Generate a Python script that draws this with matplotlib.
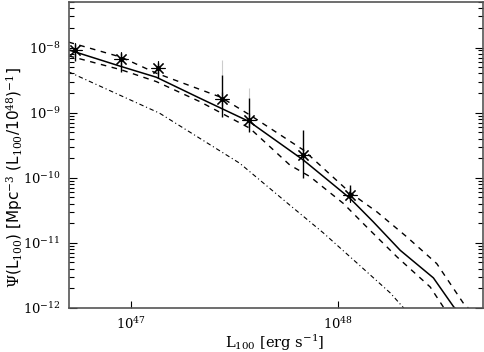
import matplotlib
matplotlib.use("Agg")
import matplotlib.pyplot as plt
from matplotlib.ticker import LogLocator, NullLocator, NullFormatter

plt.rcParams['font.family'] = ['DejaVu Serif']
plt.rcParams['mathtext.fontset'] = 'dejavuserif'

# Model curve (solid)
model_L = [4.98e46, 8.95e46, 1.32e47, 2.14e47, 3.71e47, 6.78e47, 1.14e48, 1.476e48, 1.99e48, 2.88e48, 3.61e48, 3.66e48]
model_psi = [9.2e-9, 5.1e-9, 3.5e-9, 1.67e-9, 7.3e-10, 1.87e-10, 4.82e-11, 2.10e-11, 7.7e-12, 2.9e-12, 1.04e-12, 1.0e-12]

# Upper uncertainty (dashed)
upper_L = [4.98e46, 8.95e46, 1.32e47, 2.70e47, 3.74e47, 6.78e47, 1.14e48, 1.535e48, 2.14e48, 2.99e48, 4.03e48, 4.25e48]
upper_psi = [1.21e-8, 7.1e-9, 4.04e-9, 1.73e-9, 9.2e-10, 2.67e-10, 5.9e-11, 3.0e-11, 1.24e-11, 4.8e-12, 1.17e-12, 1.0e-12]

# Lower uncertainty (dashed)
lower_L = [4.98e46, 8.95e46, 1.32e47, 2.14e47, 3.74e47, 5.83e47, 7.3e47, 1.057e48, 1.37e48, 1.92e48, 2.78e48, 3.22e48, 3.26e48]
lower_psi = [7.45e-9, 4.54e-9, 3.0e-9, 1.48e-9, 5.75e-10, 1.57e-10, 1.04e-10, 4.04e-11, 1.76e-11, 6.1e-12, 2.1e-12, 1.03e-12, 1.0e-12]

# Dash-dot curve
dd_L = [4.98e46, 8.95e46, 1.37e47, 2.14e47, 3.34e47, 5.83e47, 8.45e47, 1.227e48, 1.78e48, 2.07e48]
dd_psi = [4.23e-9, 1.81e-9, 9.8e-10, 4.04e-10, 1.67e-10, 3.8e-11, 1.43e-11, 4.95e-12, 1.71e-12, 1.0e-12]

# Data points with error bars
pts_L = [5.36e46, 8.95e46, 1.345e47, 2.73e47, 3.71e47, 6.77e47, 1.14e48]
pts_psi = [9.2e-9, 6.64e-9, 4.92e-9, 1.61e-9, 7.73e-10, 2.23e-10, 5.42e-11]
pts_hi = [1.14e-8, 8.3e-9, 5.8e-9, 3.8e-9, 1.68e-9, 5.42e-10, 7.7e-11]
pts_lo = [6.1e-9, 4.27e-9, 3.42e-9, 8.67e-10, 5.1e-10, 9.8e-11, 4.5e-11]
# faint upper extensions of some error bars
faint_L = [2.73e47, 3.71e47]
faint_lo = [3.8e-9, 1.68e-9]
faint_hi = [6.5e-9, 2.4e-9]

fig = plt.figure(figsize=(4.85, 3.52), dpi=100)
ax = fig.add_axes([69/485, 1-308/352, (483-69)/485, (308-2)/352])
ax.set_xscale('log')
ax.set_yscale('log')
ax.set_xlim(5e46, 5e48)
ax.set_ylim(1e-12, 5e-8)

ax.plot(model_L, model_psi, color='black', lw=1.1)
ax.plot(upper_L, upper_psi, color='black', lw=1.0, dashes=(4, 4))
ax.plot(lower_L, lower_psi, color='black', lw=1.0, dashes=(4, 4))
ax.plot(dd_L, dd_psi, color='black', lw=0.8, dashes=(4, 2.5, 1, 2.5))

ax.vlines(faint_L, faint_lo, faint_hi, color='#cccccc', lw=0.8)
ax.vlines(pts_L, pts_lo, pts_hi, color='black', lw=1.0)
ax.plot(pts_L, pts_psi, linestyle='none', marker=(8, 2, 0), markersize=10,
        markeredgewidth=0.8, color='black')
ax.plot(pts_L, pts_psi, linestyle='none', marker='o', markersize=2.5, color='black')

for s in ax.spines.values():
    s.set_color('#555555')
    s.set_linewidth(1.2)

ax.xaxis.set_major_locator(LogLocator(base=10, numticks=10))
ax.xaxis.set_minor_locator(NullLocator())
ax.yaxis.set_major_locator(LogLocator(base=10, numticks=20))
ax.yaxis.set_minor_locator(LogLocator(base=10, subs=range(2, 10), numticks=20))
ax.yaxis.set_minor_formatter(NullFormatter())
ax.tick_params(axis='x', which='major', direction='in', length=5, width=0.8, top=False, labelsize=9.5, pad=6)
ax.tick_params(axis='y', which='major', direction='in', length=6, width=0.8, right=True, labelsize=9.5, pad=6)
ax.tick_params(axis='y', which='minor', direction='in', length=3.5, width=0.8, right=True)

fig.text(275/485, 1-343/352, r'L$_{\rm 100}$ [erg s$^{-1}$]', fontsize=10.5,
         ha='center', va='center')
fig.text(15/485, 1-178/352,
         r'$\Psi$(L$_{100}$) [Mpc$^{-3}$ (L$_{100}$/10$^{48}$)$^{-1}$]',
         fontsize=11, family='DejaVu Sans', rotation=90, ha='center', va='center')

fig.savefig('out.png', dpi=100)
